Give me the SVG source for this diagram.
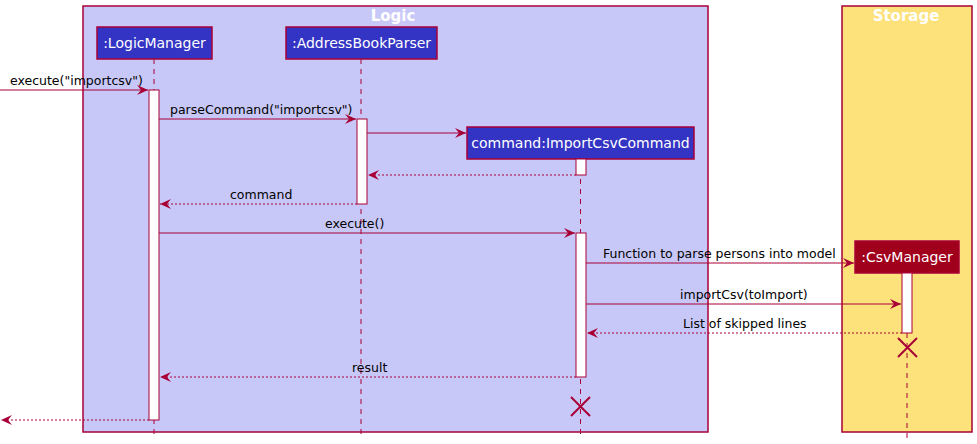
<svg xmlns="http://www.w3.org/2000/svg" width="977" height="444" viewBox="0 0 977 444">
<style>
.grp{stroke:#A80036;stroke-width:1.5}
.gt{font-family:"DejaVu Sans",sans-serif;font-weight:bold;font-size:15px;fill:#FFFFFF;text-anchor:middle}
.life{stroke:#A80036;stroke-width:1;stroke-dasharray:5,5;fill:none}
.pbox{stroke:#A80036;stroke-width:1.5}
.pt{font-family:"DejaVu Sans",sans-serif;font-size:14px;fill:#FFFFFF;text-anchor:middle}
.act{fill:#FFFFFF;stroke:#A80036;stroke-width:1}
.msg{stroke:#A80036;stroke-width:1;fill:none}
.ret{stroke:#A80036;stroke-width:1;stroke-dasharray:2,2;fill:none}
.ml{font-family:"DejaVu Sans",sans-serif;font-size:12.5px;fill:#000000}
.x{stroke:#A80036;stroke-width:2;fill:none}
</style>
<defs>
<marker id="ah" viewBox="0 0 12 10" refX="11" refY="5" markerWidth="12" markerHeight="10" markerUnits="userSpaceOnUse" orient="auto">
<polygon points="0,0 11,5 0,10 4,5" fill="#A80036"/>
</marker>
</defs>
<g id="logic-group">
<rect class="grp" x="83" y="6" width="625" height="426" fill="#C8C8F8"/>
<text class="gt" x="393" y="21">Logic</text>
</g>
<g id="storage-group">
<rect class="grp" x="842" y="6" width="130" height="426" fill="#FDE17A"/>
<text class="gt" x="906" y="21">Storage</text>
</g>
<g id="LogicManager">
<line class="life" x1="154" y1="59" x2="154" y2="438"/>
<rect class="pbox" x="97" y="27" width="115" height="32" fill="#3434C4"/>
<text class="pt" x="154.5" y="48">:LogicManager</text>
<rect class="act" x="149" y="90" width="10" height="330"/>
</g>
<g id="AddressBookParser">
<line class="life" x1="361" y1="59" x2="361" y2="438"/>
<rect class="pbox" x="286" y="27" width="151" height="32" fill="#3434C4"/>
<text class="pt" x="361.5" y="48">:AddressBookParser</text>
<rect class="act" x="357" y="119" width="10" height="85"/>
</g>
<g id="ImportCsvCommand">
<line class="life" x1="580.5" y1="159" x2="580.5" y2="438"/>
<rect class="pbox" x="467" y="127" width="227" height="32" fill="#3434C4"/>
<text class="pt" x="580.5" y="148">command:ImportCsvCommand</text>
<rect class="act" x="576" y="159" width="10" height="16"/>
<rect class="act" x="576" y="233" width="10" height="144"/>
<path class="x" d="M571,397 L590,416 M590,397 L571,416"/>
</g>
<g id="CsvManager">
<line class="life" x1="907" y1="273" x2="907" y2="438"/>
<rect class="pbox" x="855" y="241" width="104" height="32" fill="#A0001B"/>
<text class="pt" x="907" y="262">:CsvManager</text>
<rect class="act" x="902" y="273" width="10" height="60"/>
<path class="x" d="M898,338 L917,357 M917,338 L898,357"/>
</g>
<g id="connectors">
<line class="msg" x1="0" y1="90" x2="148" y2="90" marker-end="url(#ah)"/>
<text class="ml" x="10" y="85">execute("importcsv")</text>
<line class="msg" x1="159" y1="119" x2="356" y2="119" marker-end="url(#ah)"/>
<text class="ml" x="170" y="114">parseCommand("importcsv")</text>
<line class="msg" x1="367" y1="133" x2="466" y2="133" marker-end="url(#ah)"/>
<line class="ret" x1="576" y1="175" x2="368" y2="175" marker-end="url(#ah)"/>
<line class="ret" x1="357" y1="204" x2="160" y2="204" marker-end="url(#ah)"/>
<text class="ml" x="230" y="199">command</text>
<line class="msg" x1="159" y1="233" x2="575" y2="233" marker-end="url(#ah)"/>
<text class="ml" x="325" y="228">execute()</text>
<line class="msg" x1="586" y1="263" x2="854" y2="263" marker-end="url(#ah)"/>
<text class="ml" x="603" y="258">Function to parse persons into model</text>
<line class="msg" x1="586" y1="304" x2="901" y2="304" marker-end="url(#ah)"/>
<text class="ml" x="680" y="299">importCsv(toImport)</text>
<line class="ret" x1="902" y1="333" x2="587" y2="333" marker-end="url(#ah)"/>
<text class="ml" x="683" y="328">List of skipped lines</text>
<line class="ret" x1="576" y1="377" x2="160" y2="377" marker-end="url(#ah)"/>
<text class="ml" x="352" y="372">result</text>
<line class="ret" x1="149" y1="420" x2="1" y2="420" marker-end="url(#ah)"/>
</g>
</svg>
